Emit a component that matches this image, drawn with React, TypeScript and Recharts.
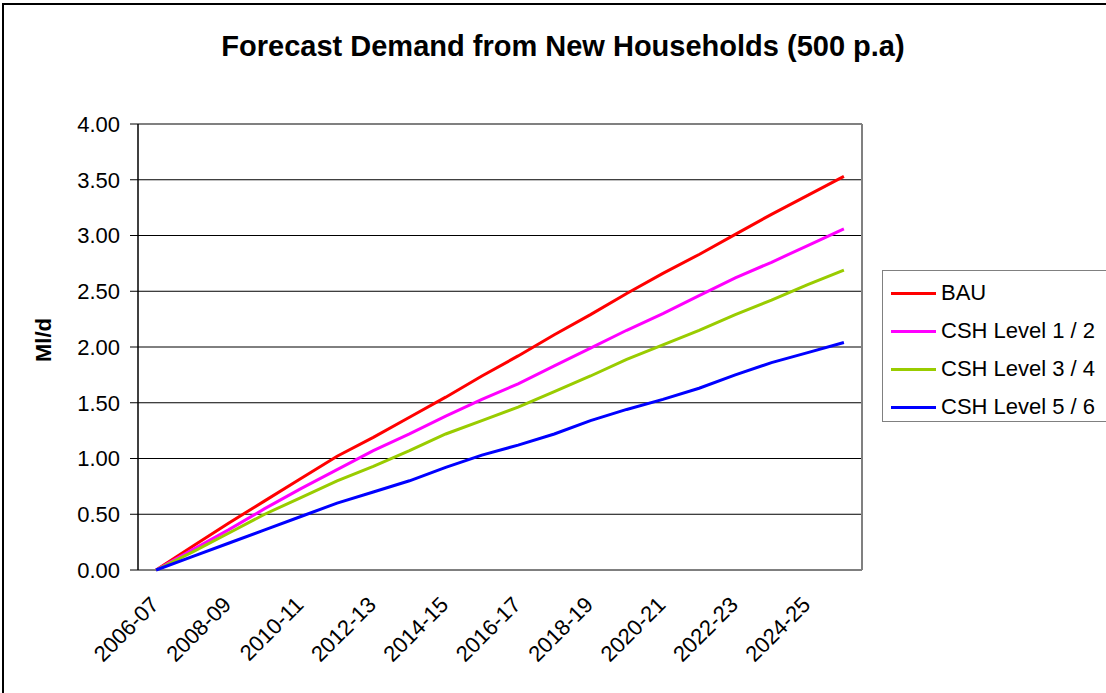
import React from 'react';
import { LineChart, Line, XAxis, YAxis, CartesianGrid, ReferenceLine, Legend } from 'recharts';

const periods = ['2006-07','2007-08','2008-09','2009-10','2010-11','2011-12','2012-13','2013-14','2014-15','2015-16','2016-17','2017-18','2018-19','2019-20','2020-21','2021-22','2022-23','2023-24','2024-25','2025-26'];
const bau = [0, 0.21, 0.42, 0.62, 0.82, 1.02, 1.19, 1.37, 1.55, 1.74, 1.92, 2.11, 2.29, 2.48, 2.66, 2.83, 3.01, 3.19, 3.36, 3.53];
const csh12 = [0, 0.18, 0.36, 0.55, 0.73, 0.90, 1.07, 1.22, 1.38, 1.53, 1.67, 1.83, 1.99, 2.15, 2.30, 2.46, 2.62, 2.76, 2.91, 3.06];
const csh34 = [0, 0.16, 0.33, 0.50, 0.65, 0.80, 0.93, 1.07, 1.22, 1.34, 1.46, 1.60, 1.74, 1.89, 2.02, 2.15, 2.29, 2.42, 2.56, 2.69];
const csh56 = [0, 0.12, 0.24, 0.36, 0.48, 0.60, 0.70, 0.80, 0.92, 1.03, 1.12, 1.22, 1.34, 1.44, 1.53, 1.63, 1.75, 1.86, 1.95, 2.04];
const yTicks = [0, 0.5, 1, 1.5, 2, 2.5, 3, 3.5, 4];
const labelEvery = 2;

const series = [
  { key: 'bau', name: 'BAU', color: '#FF0000', values: bau },
  { key: 'csh12', name: 'CSH Level 1 / 2', color: '#FF00FF', values: csh12 },
  { key: 'csh34', name: 'CSH Level 3 / 4', color: '#99CC00', values: csh34 },
  { key: 'csh56', name: 'CSH Level 5 / 6', color: '#0000FF', values: csh56 },
];

const data = periods.map((p, i) => {
  const row: any = { x: i + 0.5, period: p };
  series.forEach((s) => { row[s.key] = s.values[i]; });
  return row;
});

const boundaryTicks = Array.from({ length: periods.length + 1 }, (_, i) => i);
const labelTicks = periods.map((_, i) => i + 0.5).filter((_, i) => i % labelEvery === 0);

const FONT = '"Liberation Sans", Arial, sans-serif';

const XLabelTick = (props: any) => {
  const { x, y, payload } = props;
  const idx = Math.round(payload.value - 0.5);
  return (
    <g transform={`translate(${x + 4},${y + 36}) rotate(-45)`}>
      <text x={0} y={0} textAnchor="end" fontSize={22} fill="#000" fontFamily={FONT}>{periods[idx]}</text>
    </g>
  );
};

const LegendContent = () => (
  <div style={{ border: '1px solid #808080', width: 240, height: 152, boxSizing: 'border-box', paddingTop: 3, background: '#fff', fontFamily: FONT }}>
    {series.map((s) => (
      <div key={s.key} style={{ display: 'flex', alignItems: 'center', height: 38, whiteSpace: 'nowrap' }}>
        <div style={{ width: 45, height: 3, background: s.color, marginLeft: 8, marginRight: 5 }} />
        <span style={{ fontSize: 22, color: '#000' }}>{s.name}</span>
      </div>
    ))}
  </div>
);

export default function App() {
  return (
    <div style={{ position: 'absolute', left: 0, top: 0, width: 1106, height: 693, overflow: 'hidden', background: '#fff', fontFamily: FONT }}>
      <div style={{ position: 'absolute', left: 2, top: 3, width: 1120, height: 720, border: '2px solid #000', boxSizing: 'border-box' }} />
      <div style={{ position: 'absolute', left: 0, top: 0 }}>
        <LineChart width={1106} height={693} data={data} margin={{ top: 124, right: 244, left: 0, bottom: 43 }} style={{ fontFamily: FONT }}>
          <CartesianGrid vertical={false} stroke="#000" strokeWidth={1} />
          <XAxis type="number" dataKey="x" domain={[0, periods.length]} ticks={boundaryTicks} allowDataOverflow
            height={0} tickSize={8} tickFormatter={() => ''} axisLine={{ stroke: '#000', strokeWidth: 1 }} tickLine={{ stroke: '#666' }} interval={0} />
          <XAxis xAxisId="labels" type="number" dataKey="x" domain={[0, periods.length]} ticks={labelTicks} allowDataOverflow
            height={80} tickSize={0} tickMargin={0} axisLine={false} tickLine={false} tick={<XLabelTick />} interval={0} />
          <YAxis type="number" domain={[0, 4]} ticks={yTicks} width={138} tickSize={8} tickMargin={10} interval={0}
            tickFormatter={(v: number) => v.toFixed(2)} tick={{ fontSize: 22, fill: '#000', fontFamily: FONT }}
            axisLine={{ stroke: '#000', strokeWidth: 1.5 }} tickLine={{ stroke: '#000' }} />
          <ReferenceLine y={4} stroke="#808080" strokeWidth={2} />
          <ReferenceLine x={periods.length} stroke="#808080" strokeWidth={2} />
          {series.map((s) => (
            <Line key={s.key} type="linear" dataKey={s.key} name={s.name} stroke={s.color} strokeWidth={3} dot={false} isAnimationActive={false} />
          ))}
          <Legend layout="horizontal" align="center" verticalAlign="middle" content={<LegendContent />}
            wrapperStyle={{ position: 'absolute', left: 882, top: 270, width: 240, height: 152 }} />
        </LineChart>
      </div>
      <svg width={1106} height={693} style={{ position: 'absolute', left: 0, top: 0, pointerEvents: 'none' }}>
        <text x={563} y={56} textAnchor="middle" fontSize={29} fontWeight="bold" fill="#000" fontFamily={FONT}>Forecast Demand from New Households (500 p.a)</text>
        <text transform="translate(51,340) rotate(-90)" textAnchor="middle" fontSize={22} fontWeight="bold" fill="#000" fontFamily={FONT}>Ml/d</text>
      </svg>
    </div>
  );
}
